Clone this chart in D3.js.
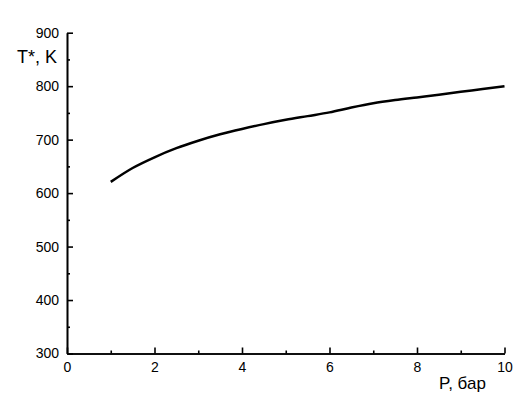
<!DOCTYPE html>
<html lang="ru">
<head>
<meta charset="utf-8">
<title>T* vs P</title>
<script src="https://d3js.org/d3.v7.min.js"></script>
<style>
  body{margin:0;background:#fff;font-family:"Liberation Sans",Arial,sans-serif;}
  .axis path,.axis line{stroke:#000;stroke-width:1.6;}
  .axis text{font-size:14px;font-family:"Liberation Sans",Arial,sans-serif;fill:#000;}
</style>
</head>
<body>
<div id="chart"></div>
<script>
// pressure, bar
var pressure = [1, 1.5, 2, 2.5, 3, 3.5, 4, 4.5, 5, 5.5, 6, 6.5, 7, 7.5, 8, 8.5, 9, 9.5, 10]
// temperature T*, K
var temperature = [621, 647, 667, 684, 698, 710, 720, 729, 737, 744, 751, 760, 768, 774, 779, 784, 789.5, 794.5, 800]

var xTicks = [0, 2, 4, 6, 8, 10]
var xMinor = [1, 3, 5, 7, 9]
var yTicks = [300, 400, 500, 600, 700, 800, 900]
var yMinor = [350, 450, 550, 650, 750, 850]

var w = 529, h = 405

var xScale = d3.scaleLinear().domain([0, 10]).range([67, 504.5])
var yScale = d3.scaleLinear().domain([300, 900]).range([353.5, 32.7])

var svg = d3.select("#chart").append("svg")
  .attr("width", w).attr("height", h)

// minor ticks first
svg.append("g").attr("class", "axis")
  .attr("transform", "translate(0," + yScale(300) + ")")
  .call(d3.axisBottom(xScale).tickValues(xMinor).tickSizeInner(-3).tickSizeOuter(0).tickFormat(""))
svg.append("g").attr("class", "axis")
  .attr("transform", "translate(" + xScale(0) + ",0)")
  .call(d3.axisLeft(yScale).tickValues(yMinor).tickSizeInner(-3).tickSizeOuter(0).tickFormat(""))

// major ticks with labels
svg.append("g").attr("class", "axis")
  .attr("transform", "translate(0," + yScale(300) + ")")
  .call(d3.axisBottom(xScale).tickValues(xTicks).tickSizeInner(-6).tickSizeOuter(0).tickPadding(9))
svg.append("g").attr("class", "axis")
  .attr("transform", "translate(" + xScale(0) + ",0)")
  .call(d3.axisLeft(yScale).tickValues(yTicks).tickSizeInner(-6).tickSizeOuter(0).tickPadding(8))

// axis titles
svg.append("text")
  .attr("x", 17).attr("y", 63)
  .attr("font-size", 18)
  .text("T*, K")
svg.append("text")
  .attr("x", 439).attr("y", 389)
  .attr("font-size", 17)
  .text("P, бар")

var data = pressure.map(function(p, i){ return {p: p, t: temperature[i]} })

var line = d3.line()
  .x(function(d){ return xScale(d.p) })
  .y(function(d){ return yScale(d.t) })
  .curve(d3.curveMonotoneX)

svg.append("path")
  .datum(data)
  .attr("d", line)
  .attr("fill", "none")
  .attr("stroke", "#000")
  .attr("stroke-width", 2.5)
</script>
</body>
</html>
